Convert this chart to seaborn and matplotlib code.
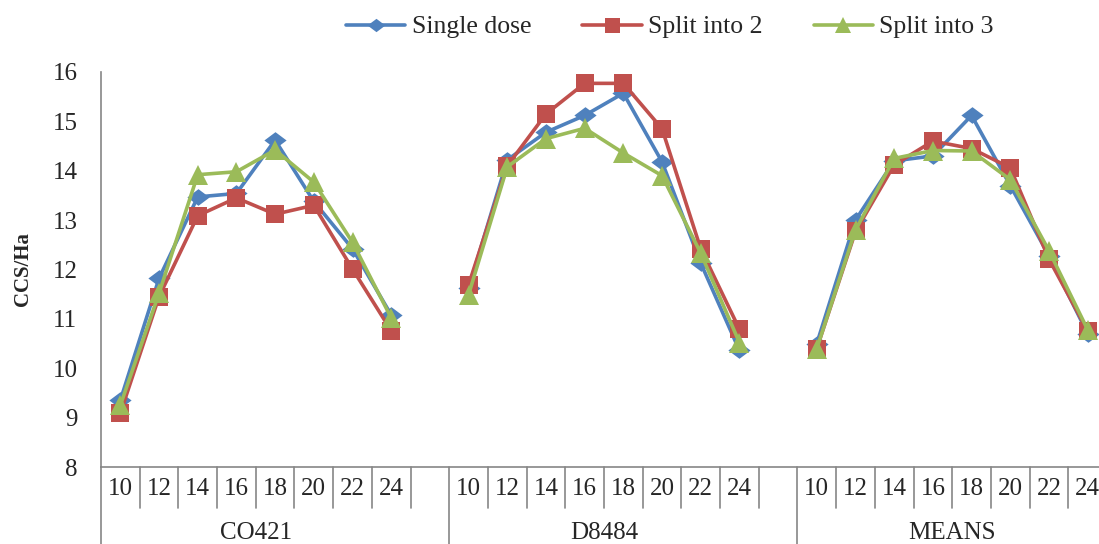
import numpy as np
import pandas as pd
import matplotlib
matplotlib.use("Agg")
import matplotlib.pyplot as plt
import seaborn as sns

# datos
grupos = ['CO421', 'D8484', 'MEANS']
dosis = ['10', '12', '14', '16', '18', '20', '22', '24']
series = ['Single dose', 'Split into 2', 'Split into 3']

single_dose = [9.35, 11.82, 13.47, 13.54, 14.62, 13.38, 12.42, 11.08,
               11.62, 14.22, 14.78, 15.12, 15.57, 14.18, 12.13, 10.36,
               10.50, 13.00, 14.20, 14.30, 15.12, 13.70, 12.28, 10.70]
split_2 = [9.09, 11.45, 13.09, 13.45, 13.12, 13.30, 12.01, 10.76,
           11.69, 14.10, 15.15, 15.77, 15.77, 14.85, 12.42, 10.79,
           10.40, 12.77, 14.12, 14.60, 14.45, 14.06, 12.21, 10.76]
split_3 = [9.25, 11.52, 13.92, 13.98, 14.42, 13.77, 12.55, 11.02,
           11.49, 14.08, 14.65, 14.86, 14.36, 13.90, 12.33, 10.52,
           10.40, 12.80, 14.25, 14.41, 14.40, 13.82, 12.38, 10.78]

valores = {'Single dose': single_dose, 'Split into 2': split_2, 'Split into 3': split_3}

filas = []
for s in series:
    for g, grupo in enumerate(grupos):
        for i, d in enumerate(dosis):
            filas.append({'pos': g * 9 + i, 'CCS/Ha': valores[s][g * 8 + i],
                          'serie': s, 'grupo': grupo})
df = pd.DataFrame(filas)

sns.set_style("white")
plt.rcParams['font.family'] = ['Liberation Serif', 'DejaVu Serif']

colores = {'Single dose': '#4F81BD', 'Split into 2': '#C0504D', 'Split into 3': '#9BBB59'}
rombo = [(-1, 0), (0, 0.75), (1, 0), (0, -0.75), (-1, 0)]
marcadores = {'Single dose': rombo, 'Split into 2': 's', 'Split into 3': '^'}
tamanos = {'Single dose': 16, 'Split into 2': 13.5, 'Split into 3': 14}
gris = '#868686'

fig = plt.figure(figsize=(10.99, 5.44), dpi=100)
ax = fig.add_axes([101 / 1099, 77 / 544, (1107 - 101) / 1099, 395 / 544])

handles = []
for s in series:
    sub = df[df['serie'] == s]
    n_antes = len(ax.lines)
    sns.lineplot(data=sub, x='pos', y='CCS/Ha', units='grupo', estimator=None,
                 color=colores[s], marker=marcadores[s], markersize=tamanos[s],
                 markeredgewidth=0, linewidth=2.6, ax=ax, legend=False)
    handles.append(ax.lines[n_antes])

ax.set_xlim(-0.5, 25.5)
ax.set_ylim(8, 16)
ax.set_yticks(range(8, 17))
ax.tick_params(axis='y', length=7, color=gris, width=1.2, labelsize=18, pad=10)
ax.set_ylabel('CCS/Ha', fontsize=15, fontweight='bold', labelpad=14)
ax.set_xlabel('')

pos_ticks = [g * 9 + i for g in range(3) for i in range(8)]
ax.set_xticks(pos_ticks)
ax.set_xticklabels(dosis * 3, fontsize=18)
ax.tick_params(axis='x', length=0, pad=8)

for lado in ['top', 'right']:
    ax.spines[lado].set_visible(False)
for lado in ['left', 'bottom']:
    ax.spines[lado].set_color(gris)
    ax.spines[lado].set_linewidth(1.2)

trans = ax.get_xaxis_transform()
# separadores cortos entre categorias
for g in range(3):
    for i in range(8):
        x = g * 9 + i + 0.5
        ax.plot([x, x], [0, -41 / 395], transform=trans, color=gris, lw=1.2, clip_on=False)
# separadores largos entre grupos
for x in [-0.5, 8.5, 17.5]:
    ax.plot([x, x], [0, -80 / 395], transform=trans, color=gris, lw=1.2, clip_on=False)
for g, grupo in enumerate(grupos):
    ax.text(g * 9 + 3.5, -66 / 395, grupo, transform=trans, ha='center', va='center', fontsize=18)

fig.legend(handles, series, loc='center', bbox_to_anchor=(670 / 1099, 1 - 27 / 544), ncol=3,
           frameon=False, fontsize=18.5, handlelength=2.3, columnspacing=2.0, handletextpad=0.25,
           markerscale=0.8)

fig.savefig('out.png', dpi=100)
